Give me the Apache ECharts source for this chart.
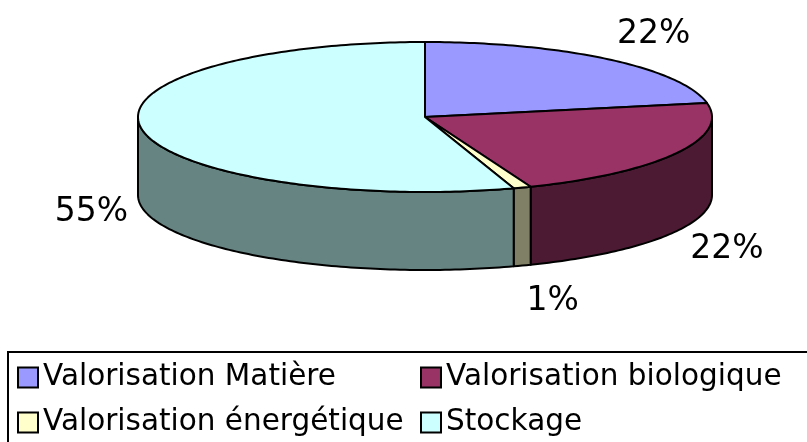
<!DOCTYPE html>
<html lang="fr">
<head>
  <meta charset="UTF-8">
  <title>camembert</title>
  <script src="https://cdn.jsdelivr.net/npm/echarts@6/dist/echarts.min.js"></script>
  <style>
    * { margin: 0; padding: 0; }
    body { background: #fff; }
    #main { width: 807px; height: 442px; }
  </style>
</head>
<body>
  <div id="main"></div>
  <script>
    var categories = ['Valorisation Matière', 'Valorisation biologique', 'Valorisation énergétique', 'Stockage'];
    var values = [22, 22, 1, 55];
    var topColors = ['#9999FF', '#993366', '#FFFFCC', '#CCFFFF'];
    var sideColors = ['#4d4d80', '#4d1a33', '#808066', '#668482'];

    // ellipse geometry of the 3d pie
    var cx = 425, cy = 117, rx = 287, ry = 75, depth = 78;
    var total = values.reduce(function (a, b) { return a + b }, 0);

    function pt(deg, dy, ex, ey) {
      var r = deg * Math.PI / 180;
      return [cx + (rx + (ex || 0)) * Math.sin(r), cy - (ry + (ey || 0)) * Math.cos(r) + (dy || 0)];
    }

    function arc(a0, a1, dy) {
      var pts = [], n = Math.max(2, Math.ceil(Math.abs(a1 - a0)));
      for (var i = 0; i <= n; i++) pts.push(pt(a0 + (a1 - a0) * i / n, dy));
      return pts;
    }

    function renderSlice(idx) {
      return function (params, api) {
        var before = 0;
        for (var i = 0; i < idx; i++) before += values[i];
        var v = api.value(0);
        var a0 = before / total * 360, a1 = (before + v) / total * 360;
        var children = [];

        // front wall, only the part facing us
        var s = Math.max(a0, 90), e = Math.min(a1, 270);
        if (e > s) {
          children.push({
            type: 'polygon',
            shape: { points: arc(s, e, 0).concat(arc(e, s, depth)) },
            style: { fill: sideColors[idx], stroke: '#000', lineWidth: 2, lineJoin: 'round' }
          });
        }

        children.push({
          type: 'polygon',
          shape: { points: [[cx, cy]].concat(arc(a0, a1, 0)) },
          style: { fill: topColors[idx], stroke: '#000', lineWidth: 2, lineJoin: 'round' }
        });

        // percent label outside the slice
        var mid = (a0 + a1) / 2, sn = Math.abs(Math.sin(mid * Math.PI / 180));
        var front = Math.cos(mid * Math.PI / 180) < 0 ? depth * 0.95 : 0;
        var p = pt(mid, front + 4, 110 - 60 * sn, 38);
        children.push({
          type: 'text',
          x: p[0], y: p[1],
          style: {
            text: Math.round(v / total * 100) + '%',
            fontFamily: 'DejaVu Sans', fontSize: 33, fill: '#000',
            align: 'center', verticalAlign: 'middle'
          }
        });

        return { type: 'group', children: children };
      }
    }

    var myChart = echarts.init(document.getElementById('main'));

    var option = {
      animation: false,
      legend: {
        left: 8,
        top: 352,
        width: 900,
        padding: [8, 200, 40, 9],
        itemWidth: 20,
        itemHeight: 20,
        itemGap: 10,
        icon: 'rect',
        borderColor: '#000',
        borderWidth: 2,
        itemStyle: { borderColor: '#000', borderWidth: 2 },
        textStyle: { fontFamily: 'DejaVu Sans', fontSize: 29.5, color: '#000', width: 367, lineHeight: 35 },
        data: categories
      },
      series: categories.map(function (name, i) {
        return {
          type: 'custom',
          name: name,
          coordinateSystem: 'none',
          silent: true,
          itemStyle: { color: topColors[i] },
          data: [[values[i]]],
          renderItem: renderSlice(i)
        };
      })
    };

    myChart.setOption(option);
  </script>
</body>
</html>
